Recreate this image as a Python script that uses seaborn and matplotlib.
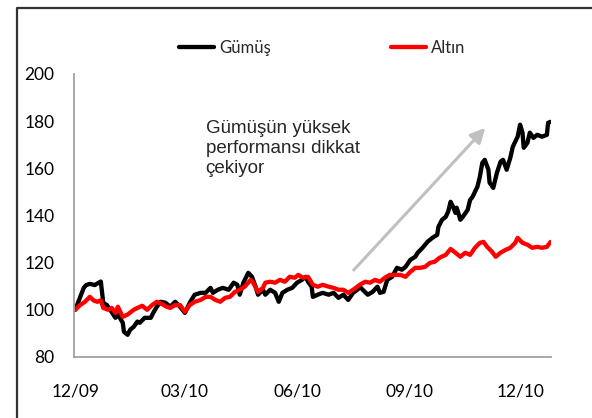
import pandas as pd
import numpy as np
import matplotlib
matplotlib.use("Agg")
import matplotlib.pyplot as plt
import matplotlib.dates as mdates
from matplotlib.lines import Line2D
import seaborn as sns

# indexed prices (12/09 = 100)
start_date = pd.Timestamp("2009-12-01")

silver_days = [0, 7, 9, 12, 16, 21, 23, 26, 30, 33, 35, 39, 40, 43, 45, 48, 51, 53, 57, 62,
               64, 67, 70, 74, 78, 82, 86, 90, 94, 98, 103, 107, 111, 113, 117, 121, 126, 130, 133, 135,
               138, 142, 145, 148, 150, 154, 156, 160, 164, 167, 170, 174, 178, 182, 186, 189, 191, 194, 195, 199,
               203, 208, 212, 216, 220, 224, 228, 234, 240, 244, 248, 250, 253, 256, 260, 264, 268, 271, 275, 279,
               281, 285, 289, 293, 297, 298, 301, 304, 306, 308, 310, 312, 313, 316, 318, 322, 324, 326, 330, 332,
               334, 336, 339, 340, 343, 346, 349, 351, 354, 357, 359, 363, 365, 367, 368, 371, 373, 376, 379, 383,
               387, 388, 390]
silver_vals = [100, 109.3, 110.5, 111, 110.5, 112, 103, 102, 99, 96.6, 98, 94.5, 90.7, 89.4, 91.5, 92.8, 95, 94.5, 96.6, 96.6,
               98.7, 101.3, 103.4, 103, 101.3, 103.4, 101.3, 98.7, 103, 106.4, 107.2, 107.2, 109.3, 107.2, 108.5, 109.3, 108.5, 111.5, 110.6, 106.4,
               111.5, 115.7, 114, 109.8, 106.4, 108.5, 106.4, 108.5, 107.2, 103.4, 107.2, 108.5, 109.3, 111.5, 112.7, 114, 111.9, 109.8, 105.5, 106.4,
               107.2, 106.4, 107.2, 105.1, 106.4, 104.2, 107.2, 109.5, 106.4, 107.6, 109.8, 107.2, 107.6, 112.7, 114, 117.8, 117, 118.2, 121.2, 122.5,
               124.2, 126.3, 128.8, 130.5, 131.8, 135.2, 138.2, 139.4, 141.6, 145.8, 143.7, 141.1, 143.3, 138.2, 139.4, 142.4, 146.6, 147.9, 152.2, 156.4,
               162.3, 163.6, 159.4, 153.9, 151.7, 158.1, 162.8, 163.6, 159.4, 164.5, 169.1, 173.4, 178.5, 175.1, 168.7, 170.8, 175.1, 172.9, 174.2, 173.4,
               174.2, 179.3, 179.7]

gold_days = [0, 4, 8, 12, 15, 18, 21, 23, 27, 30, 33, 35, 39, 43, 48, 51, 55, 59, 63, 67,
             71, 75, 78, 82, 86, 90, 94, 98, 103, 107, 111, 115, 119, 123, 127, 131, 135, 139, 144, 146,
             150, 154, 156, 160, 164, 168, 172, 176, 180, 183, 187, 191, 195, 199, 203, 208, 212, 216, 220, 224,
             228, 234, 238, 242, 246, 250, 254, 258, 263, 267, 271, 275, 279, 283, 287, 291, 295, 299, 304, 308,
             312, 316, 320, 324, 328, 332, 335, 338, 342, 345, 349, 353, 357, 361, 363, 367, 371, 375, 379, 383,
             387, 390]
gold_vals = [100, 102, 103.4, 105.5, 104, 103.4, 104, 100.8, 100, 100.8, 98.7, 101.3, 97, 98, 100, 100.8, 101.7, 100, 102, 103.4,
             102.5, 101.3, 100.8, 102, 102, 99.2, 102, 103.4, 104.2, 105.5, 105.5, 104.2, 103.4, 105.1, 105.5, 107.6, 108.5, 109.8, 112.7, 111.5,
             107.6, 109.3, 111.5, 111.9, 111.5, 112.7, 111.9, 114, 113.6, 114.8, 113.6, 114, 110.6, 109.8, 110.6, 109.8, 109.3, 108.5, 108.5, 107.2,
             108.5, 110.8, 111.9, 111.5, 112.7, 111.9, 113.6, 114.8, 114.8, 114.8, 114, 116.1, 117.8, 117.8, 118.2, 119.9, 120.4, 122.1, 123.3, 125.8,
             124.2, 122.5, 124.2, 123.3, 126.3, 128.4, 128.8, 126.7, 124.6, 122.5, 124.2, 125.4, 126.3, 128.4, 130.5, 128.4, 127.6, 126.3, 126.7, 126.3,
             126.7, 128.8]

series_names = ["Gümüş", "Altın"]
series_colors = ["#000000", "#ff0000"]
y_ticks = [80, 100, 120, 140, 160, 180, 200]
note_text = "Gümüşün yüksek\nperformansı dikkat\nçekiyor"

df = pd.concat([
    pd.DataFrame({"date": start_date + pd.to_timedelta(silver_days, unit="D"),
                  "value": silver_vals, "series": series_names[0]}),
    pd.DataFrame({"date": start_date + pd.to_timedelta(gold_days, unit="D"),
                  "value": gold_vals, "series": series_names[1]}),
], ignore_index=True)

sns.set_style("white")
plt.rcParams["font.family"] = ["Lato", "DejaVu Sans"]

fig = plt.figure(figsize=(5.92, 4.18), dpi=100)
ax = fig.add_axes([0.125, 0.146, 0.806, 0.677])

sns.lineplot(data=df, x="date", y="value", hue="series", hue_order=series_names,
             palette=dict(zip(series_names, series_colors)), linewidth=3.1,
             estimator=None, ax=ax)

ax.set_xlim(start_date - pd.Timedelta(days=1), start_date + pd.Timedelta(days=390.5))
ax.set_ylim(80, 200)
ax.set_yticks(y_ticks)
ax.xaxis.set_major_locator(mdates.MonthLocator(bymonth=[3, 6, 9, 12]))
ax.xaxis.set_major_formatter(mdates.DateFormatter("%m/%y"))
ax.set_xlabel("")
ax.set_ylabel("")

sns.despine(ax=ax)
for side in ["left", "bottom"]:
    ax.spines[side].set_color("#a0a0a0")
    ax.spines[side].set_linewidth(1.3)
ax.tick_params(axis="both", direction="out", length=5, width=1.1, color="#a0a0a0",
               labelsize=12.5, labelcolor="black")
ax.tick_params(axis="x", pad=14)
ax.tick_params(axis="y", pad=9)

# trend arrow + note
ax.annotate("", xy=(start_date + pd.Timedelta(days=338), 178),
            xytext=(start_date + pd.Timedelta(days=227), 116),
            arrowprops=dict(arrowstyle="-|>", color="#c0c0c0", lw=2.2, mutation_scale=22))
ax.text(start_date + pd.Timedelta(days=107), 180.5, note_text, ha="left", va="top",
        fontsize=13.5, family=["Liberation Sans", "DejaVu Sans"], linespacing=1.22)

sns.move_legend(ax, "center", bbox_to_anchor=(0.52, 1.092), ncol=2, frameon=False, title=None,
                fontsize=12, handlelength=2.1, handletextpad=0.3, columnspacing=7.2)

# outer frame of the original panel
fig.add_artist(Line2D([17 / 592, 17 / 592, 1.0], [0.0, 1 - 8 / 418, 1 - 8 / 418],
                      transform=fig.transFigure, color="#333333", linewidth=1.6))

fig.savefig("out.png", dpi=100)
